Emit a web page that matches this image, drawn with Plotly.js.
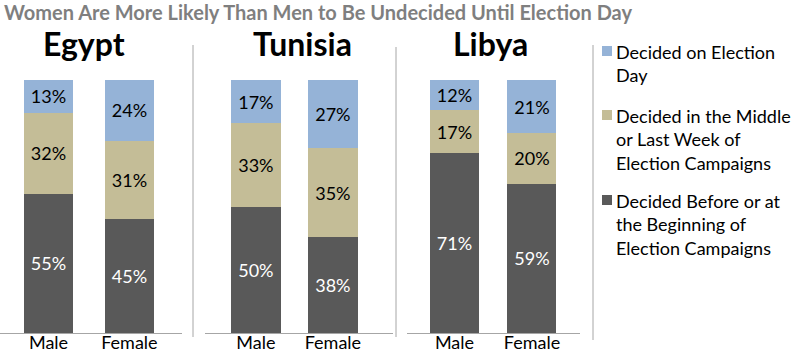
<!DOCTYPE html>
<html>
<head>
<meta charset="utf-8">
<script src="https://cdn.plot.ly/plotly-3.0.1.min.js"></script>
<style>html,body{margin:0;padding:0;background:#fff;}#chart{width:800px;height:354px;}</style>
</head>
<body>
<div id="chart"></div>
<script>
// ---- data ----
var countries = ["Egypt", "Tunisia", "Libya"];
var genders = ["Male", "Female"];
var seriesNames = [
  "Decided Before or at the Beginning of Election Campaigns",
  "Decided in the Middle or Last Week of Election Campaigns",
  "Decided on Election Day"
];
var legendLabels = [
  "Decided Before or at<br>the Beginning of<br>Election Campaigns",
  "Decided in the Middle<br>or Last Week of<br>Election Campaigns",
  "Decided on Election<br>Day"
];
var beforeVals   = [[55, 45], [50, 38], [71, 59]];
var middleVals   = [[32, 31], [33, 35], [17, 20]];
var electionDay  = [[13, 24], [17, 27], [12, 21]];
var chartTitle = "Women Are More Likely Than Men to Be Undecided Until Election Day";

// ---- styles ----
var colors = ["#595959", "#C4BD97", "#95B3D7"];
var textColors = ["#ffffff", "#000000", "#000000"];
var FONT = "Lato, 'Open Sans', sans-serif";
var W = 800, H = 354;
function px(x) { return x / W; }
function py(y) { return 1 - y / H; }

var xDomains = [[0, 182], [205, 393], [407, 580]];
var xRanges = [[-0.6, 1.65], [-0.66, 1.78], [-0.613, 1.62]];
var barWidths = [0.605, 0.65, 0.632];
var titleX = [84, 302, 490];
var yDomain = [py(333), py(80)];

var allSeries = [beforeVals, middleVals, electionDay];
var traces = [];
for (var c = 0; c < countries.length; c++) {
  for (var s = 0; s < allSeries.length; s++) {
    traces.push({
      type: "bar",
      name: seriesNames[s],
      x: genders,
      y: allSeries[s][c],
      xaxis: c === 0 ? "x" : "x" + (c + 1),
      yaxis: c === 0 ? "y" : "y" + (c + 1),
      width: barWidths[c],
      marker: { color: colors[s], line: { width: 0 } },
      texttemplate: "%{y}%",
      textposition: "inside",
      insidetextanchor: "middle",
      textangle: 0,
      constraintext: "none",
      textfont: { family: FONT, size: 18, color: textColors[s] },
      hoverinfo: "skip",
      showlegend: false
    });
  }
}

var layout = {
  width: W, height: H,
  margin: { l: 0, r: 0, t: 0, b: 0 },
  paper_bgcolor: "#ffffff",
  plot_bgcolor: "rgba(0,0,0,0)",
  barmode: "stack",
  showlegend: false,
  font: { family: FONT, size: 18, color: "#000" },
  title: {
    text: chartTitle,
    x: px(4), xanchor: "left", xref: "paper",
    y: py(13), yanchor: "middle", yref: "paper",
    font: { family: FONT, size: 20, color: "#7f7f7f", weight: "bold" }
  },
  annotations: [],
  shapes: []
};

for (var c = 0; c < countries.length; c++) {
  var sfx = c === 0 ? "" : String(c + 1);
  layout["xaxis" + sfx] = {
    domain: [px(xDomains[c][0]), px(xDomains[c][1])],
    range: xRanges[c],
    type: "category",
    anchor: "y" + sfx,
    showline: true, linecolor: "#a6a6a6", linewidth: 1,
    showgrid: false, zeroline: false, ticks: "",
    ticklabelstandoff: -7,
    tickfont: { family: FONT, size: 18, color: "#000" },
    fixedrange: true
  };
  layout["yaxis" + sfx] = {
    domain: yDomain,
    range: [0, 100],
    anchor: "x" + sfx,
    showline: false, showgrid: false, zeroline: false,
    showticklabels: false, ticks: "",
    fixedrange: true
  };
  layout.annotations.push({
    text: countries[c], xref: "paper", yref: "paper",
    x: px(titleX[c]), y: py(43), xanchor: "center", yanchor: "middle",
    showarrow: false,
    font: { family: FONT, size: 32, color: "#000", weight: "bold" }
  });
}

// separators
var seps = [[193, 45, 337], [396, 47, 337], [593, 45, 340]];
seps.forEach(function (s) {
  layout.shapes.push({
    type: "line", xref: "paper", yref: "paper",
    x0: px(s[0]), x1: px(s[0]), y0: py(s[1]), y1: py(s[2]),
    line: { color: "#a6a6a6", width: 1 }
  });
});

// legend (manual, top to bottom: election day, middle, before)
var legendOrder = [2, 1, 0];
var legendSquareY = [51, 115, 200];
for (var i = 0; i < legendOrder.length; i++) {
  var s = legendOrder[i];
  var cy = legendSquareY[i];
  layout.shapes.push({
    type: "rect", xref: "paper", yref: "paper",
    x0: px(602), x1: px(612), y0: py(cy - 5), y1: py(cy + 5),
    fillcolor: colors[s], line: { width: 0 }
  });
  layout.annotations.push({
    text: legendLabels[s], xref: "paper", yref: "paper",
    x: px(614), y: py(cy - 12), xanchor: "left", yanchor: "top",
    align: "left", showarrow: false,
    font: { family: FONT, size: 18, color: "#000" }
  });
}

Plotly.newPlot("chart", traces, layout, { displayModeBar: false, staticPlot: true });
</script>
</body>
</html>
